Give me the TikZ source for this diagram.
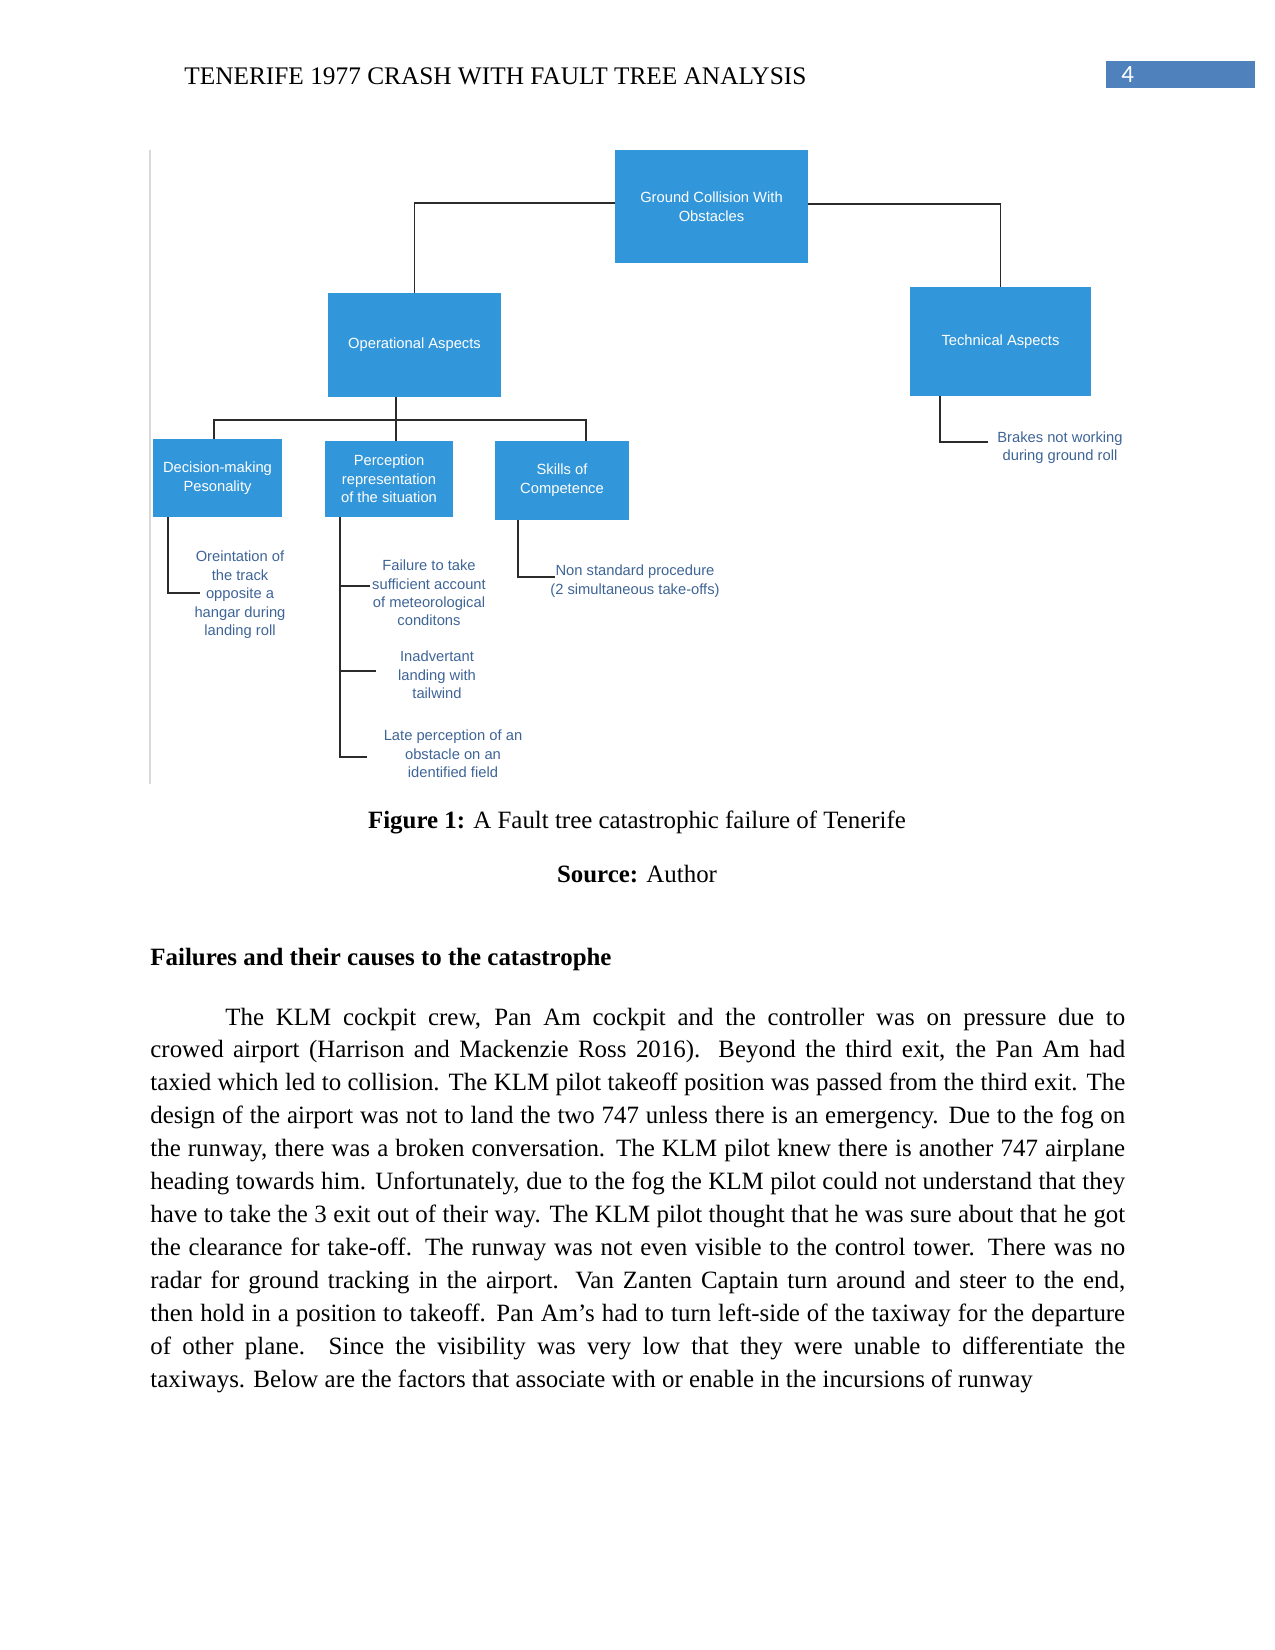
\documentclass[tikz,border=0pt]{standalone}
\usepackage{fontspec}
\setmainfont{Liberation Serif}
\newfontfamily\diagfont{Liberation Sans}
\newfontfamily\numfont{Carlito}
\usepackage{tikz}
\usetikzlibrary{positioning,fit,calc}
\definecolor{TreeBlue}{HTML}{3296DA}
\definecolor{LeafBlue}{HTML}{3E6497}
\definecolor{HeadBlue}{HTML}{4F81BD}
\definecolor{LinkGrey}{HTML}{2B2B2B}

\tikzset{
  gatebox/.style={fill=TreeBlue,inner sep=0pt},
  gatetext/.style={inner sep=0pt,text=white,align=center,
    font=\diagfont\fontsize{7.1}{9}\selectfont},
  leaftext/.style={inner sep=0pt,text=LeafBlue,align=center,
    font=\diagfont\fontsize{7.1}{8.9}\selectfont},
  link/.style={LinkGrey,line width=0.9pt},
  pagetext/.style={inner sep=0pt,font=\fontsize{12}{14}\selectfont},
}

\begin{document}
\begin{tikzpicture}[x=0.016933cm,y=-0.016933cm]
  \useasboundingbox (0,0) rectangle (1275,1650);
  % running head
  \node[pagetext,anchor=base west,font=\fontsize{12.2}{14}\selectfont] (header) at (184,84)
      {TENERIFE 1977 CRASH WITH FAULT TREE ANALYSIS};
  \node[fill=HeadBlue,inner sep=0pt,fit={(1106,61) (1255,88)}] (numbox) {};
  \node[anchor=west,inner sep=0pt,text=white,font=\numfont\fontsize{12}{14}\selectfont]
      (pagenum) at (1121,74.5) {4};

  % figure frame edge
  \draw[gray!30,line width=0.6pt] (150,150) -- (150,784);

  % gates
  \node[gatebox,fit={(615,150) (808,263)},
        label={[gatetext]center:{Ground Collision With\\Obstacles}}] (ground) {};
  \node[gatebox,fit={(328,293) (501,397)},
        label={[gatetext]center:Operational Aspects}] (oper) {};
  \node[gatebox,fit={(910,287) (1091,396)},
        label={[gatetext]center:Technical Aspects}] (tech) {};
  \node[gatebox,fit={(153,439) (282,517)},
        label={[gatetext]center:{Decision-making\\Pesonality}}] (decide) {};
  \node[gatebox,fit={(325,441) (453,517)},
        label={[gatetext]center:{Perception\\representation\\of the situation}}] (percept) {};
  \node[gatebox,fit={(495,441) (629,520)},
        label={[gatetext]center:{Skills of\\Competence}}] (skills) {};

  % basic events
  \node[leaftext] (orient) at (240,595) {Oreintation of\\the track\\opposite a\\hangar during\\landing roll};
  \node[leaftext] (meteo) at (429,593) {Failure to take\\sufficient account\\of meteorological\\conditons};
  \node[leaftext] (tailw) at (437,675) {Inadvertant\\landing with\\tailwind};
  \node[leaftext] (latep) at (453,754) {Late perception of an\\obstacle on an\\identified field};
  \node[leaftext] (nonstd) at (635,581) {Non standard procedure\\(2 simultaneous take-offs)};
  \node[leaftext] (brakes) at (1060,447.5) {Brakes not working\\during ground roll};

  % top level
  \draw[link] ([yshift=1.6pt]ground.west) -| (oper.north);
  \draw[link] ([yshift=1.2pt]ground.east) -| (tech.north);

  % operational branch
  \coordinate (opbus) at (396,420);
  \coordinate (busL) at (214,420);
  \coordinate (busR) at (586,420);
  \draw[link] (oper.south -| opbus) -- (opbus);
  \draw[link] (decide.north -| busL) -- (busL) -- (busR) -- (skills.north -| busR);
  \draw[link] (opbus) -- (percept.north -| opbus);

  % taps to basic events
  \coordinate (dtap) at (168,593);
  \coordinate (dend) at (200,593);
  \draw[link] (decide.south -| dtap) -- (dtap) -- (dend);
  \coordinate (ptrunk) at (340,757);
  \coordinate (tapM) at (370,586);
  \coordinate (tapT) at (376,671);
  \coordinate (tapL) at (367,757);
  \draw[link] (percept.south -| ptrunk) -- (ptrunk) -- (tapL);
  \draw[link] (tapM -| ptrunk) -- (tapM);
  \draw[link] (tapT -| ptrunk) -- (tapT);
  \coordinate (stap) at (518,577);
  \coordinate (send) at (555,577);
  \draw[link] (skills.south -| stap) -- (stap) -- (send);
  \coordinate (ttap) at (940,442);
  \coordinate (tend) at (988,442);
  \draw[link] (tech.south -| ttap) -- (ttap) -- (tend);

  % caption and text
  \node[pagetext,anchor=base] (caption) at (637,828)
      {\textbf{Figure 1:} A Fault tree catastrophic failure of Tenerife};
  \node[pagetext,anchor=base] (source) at (637,882) {\textbf{Source:} Author};
  \node[pagetext,anchor=base west] (heading) at (150,965)
      {\textbf{Failures and their causes to the catastrophe}};
  \node[pagetext,anchor=base west,text width=6.5in,align=justify,
        font=\fontsize{12}{15.87}\selectfont] (body) at (150,1025)
      {\hspace*{0.5in}The KLM cockpit crew, Pan Am cockpit and the controller was on pressure due to\linebreak
       crowed airport (Harrison and Mackenzie Ross 2016). Beyond the third exit, the Pan Am had\linebreak
       taxied which led to collision. The KLM pilot takeoff position was passed from the third exit. The\linebreak
       design of the airport was not to land the two 747 unless there is an emergency. Due to the fog on\linebreak
       the runway, there was a broken conversation. The KLM pilot knew there is another 747 airplane\linebreak
       heading towards him. Unfortunately, due to the fog the KLM pilot could not understand that they\linebreak
       have to take the 3 exit out of their way. The KLM pilot thought that he was sure about that he got\linebreak
       the clearance for take-off. The runway was not even visible to the control tower. There was no\linebreak
       radar for ground tracking in the airport. Van Zanten Captain turn around and steer to the end,\linebreak
       then hold in a position to takeoff. Pan Am’s had to turn left-side of the taxiway for the departure\linebreak
       of other plane. Since the visibility was very low that they were unable to differentiate the\linebreak
       taxiways. Below are the factors that associate with or enable in the incursions of runway\par};
\end{tikzpicture}
\end{document}
